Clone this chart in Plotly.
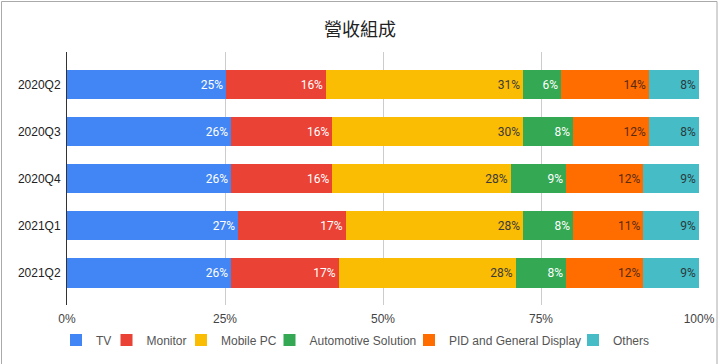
import plotly.graph_objects as go

categories = ["2020Q2", "2020Q3", "2020Q4", "2021Q1", "2021Q2"]
series_names = ["TV", "Monitor", "Mobile PC", "Automotive Solution", "PID and General Display", "Others"]
tv = [25.2, 26.0, 26.0, 27.1, 26.0]
monitor = [15.8, 16.0, 16.0, 17.0, 17.0]
mobile_pc = [31.2, 30.2, 28.2, 28.1, 28.0]
automotive = [6.0, 7.9, 8.8, 7.9, 8.0]
pid_display = [13.9, 12.0, 12.2, 11.1, 12.2]
others = [7.9, 7.9, 8.8, 8.8, 8.8]
tick_vals = [0, 25, 50, 75, 100]
tick_text = ["0%", "25%", "50%", "75%", "100%"]

series_values = [tv, monitor, mobile_pc, automotive, pid_display, others]
colors = ["#4285F4", "#EA4335", "#FBBC04", "#34A853", "#FF6D01", "#46BDC6"]
text_colors = ["#ffffff", "#ffffff", "#3a3a3a", "#ffffff", "#5a2a10", "#2a3a3c"]
# legend symbol centre x (px) for each series
legend_x = [80, 130.5, 205, 293.5, 433, 597]

W, H = 720, 364
L, R, T, B = 67, 21, 52, 59

fig = go.Figure()
legend_layouts = {}
for i, (name, vals, col, tcol) in enumerate(zip(series_names, series_values, colors, text_colors)):
    lid = "legend" if i == 0 else f"legend{i+1}"
    fig.add_trace(go.Bar(
        y=categories, x=vals, name=name, orientation="h",
        marker=dict(color=col, line=dict(width=0)),
        text=[f"{round(v)}%" for v in vals],
        textposition="inside", insidetextanchor="end",
        textfont=dict(family="Roboto", size=12, color=tcol),
        constraintext="none", width=0.62, legend=lid,
    ))
    legend_layouts[lid] = dict(
        orientation="h", x=(legend_x[i] - 24) / W, xref="container", xanchor="left",
        y=1 - 340 / H, yref="container", yanchor="middle",
        font=dict(family="Liberation Sans", size=12, color="#555555"),
        bgcolor="rgba(0,0,0,0)", itemwidth=30,
    )

fig.update_layout(
    template="none",
    barmode="stack",
    width=W, height=H,
    margin=dict(l=L, r=R, t=T, b=B, autoexpand=False),
    paper_bgcolor="white", plot_bgcolor="white",
    title=dict(text="營收組成", x=0.5, xref="container", xanchor="center",
               y=1 - 29.5 / H, yref="container", yanchor="middle",
               font=dict(family="Noto Sans CJK TC", size=18, color="#222222")),
    xaxis=dict(range=[0, 100], tickvals=tick_vals, ticktext=tick_text,
               showgrid=True, gridcolor="#cccccc", gridwidth=1, zeroline=False,
               showline=False, tickfont=dict(family="Liberation Sans", size=12, color="#444444"),
               ticks="outside", ticklen=3, tickcolor="rgba(0,0,0,0)",
               automargin=False, fixedrange=True),
    yaxis=dict(categoryorder="array", categoryarray=categories,
               range=[4.68, -0.69], showline=True, linecolor="#333333", linewidth=1,
               showgrid=False, zeroline=False, automargin=False,
               tickfont=dict(family="Liberation Sans", size=12, color="#222222"),
               ticks="outside", ticklen=3, tickcolor="rgba(0,0,0,0)"),
    shapes=[dict(type="rect", xref="paper", yref="paper",
                 x0=(1.5 - L) / (W - L - R), x1=(717 - L) / (W - L - R),
                 y0=-(380 - (H - B)) / (H - T - B), y1=((H - B) - 1.5) / (H - T - B),
                 line=dict(color="#aaaaaa", width=1), fillcolor="rgba(0,0,0,0)",
                 layer="below")],
    showlegend=True,
    **legend_layouts,
)

fig.write_html("out.html", config={"displayModeBar": False},
               post_script="document.body.style.margin='0';document.body.style.overflow='hidden';")
